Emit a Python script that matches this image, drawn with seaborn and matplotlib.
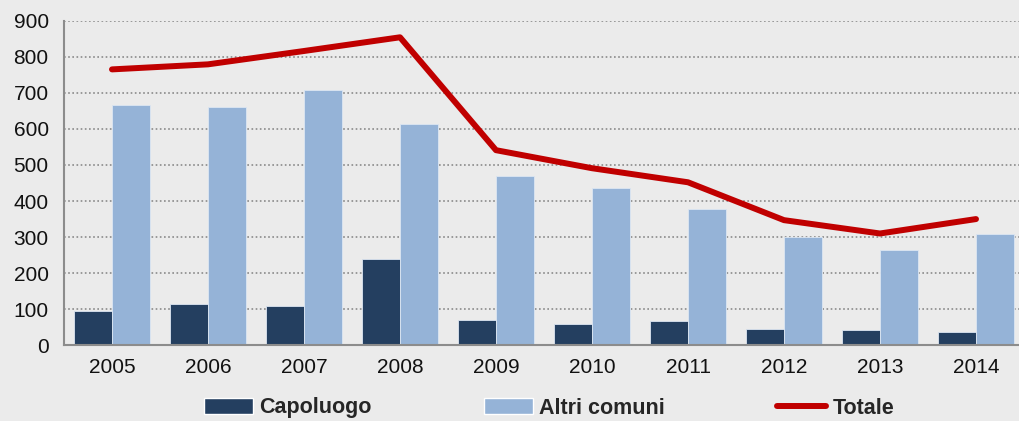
import numpy as np
import pandas as pd
import matplotlib.pyplot as plt
import seaborn as sns
from matplotlib.patches import Patch
from matplotlib.lines import Line2D

years = ['2005', '2006', '2007', '2008', '2009', '2010', '2011', '2012', '2013', '2014']
capoluogo = [95, 114, 109, 239, 69, 58, 68, 44, 43, 37]
altri_comuni = [667, 660, 708, 614, 469, 435, 379, 299, 264, 309]
totale = [765, 779, 816, 854, 541, 491, 452, 347, 310, 350]

# Colori
col_capo = '#243F60'
col_altri = '#95B3D7'
col_tot = '#C00000'
bg = '#EBEBEB'


def make_frame():
    df = pd.DataFrame({'anno': years * 2,
                       'valore': capoluogo + altri_comuni,
                       'serie': ['Capoluogo'] * len(years) + ['Altri comuni'] * len(years)})
    return df


def plot_chart(df):
    sns.set_style('white')
    plt.rcParams['font.family'] = ['Liberation Sans', 'DejaVu Sans']

    fig = plt.figure(figsize=(10.19, 4.21), dpi=100, facecolor=bg)
    ax = fig.add_axes([64 / 1019, (421 - 345.3) / 421, 960 / 1019, 324.6 / 421])
    ax.set_facecolor(bg)

    sns.barplot(data=df, x='anno', y='valore', hue='serie',
                palette=[col_capo, col_altri], width=0.8, saturation=1,
                edgecolor='#dce6f2', linewidth=0.6, ax=ax, legend=False)
    sns.lineplot(x=np.arange(len(years)), y=totale, color=col_tot, linewidth=4.3,
                 ax=ax, legend=False)

    ax.set_xlim(-0.5, 9.5)
    ax.set_ylim(0, 900)
    ax.set_yticks(range(0, 901, 100))
    ax.yaxis.grid(True, linestyle=(0, (1, 1.5)), color='#8a8a8a', linewidth=1.2)
    ax.set_axisbelow(True)

    ax.set_xticks(np.arange(-0.5, 10, 1), minor=True)
    ax.tick_params(axis='x', which='major', length=0, pad=9, labelsize=15, colors='#111111')
    ax.tick_params(axis='x', which='minor', length=5, width=1.5, color='#8c8c8c')
    ax.tick_params(axis='y', length=5, width=1.5, color='#8c8c8c', pad=6, labelsize=15,
                   labelcolor='#111111')
    ax.set_xlabel('')
    ax.set_ylabel('')

    for side in ['top', 'right']:
        ax.spines[side].set_visible(False)
    for side in ['left', 'bottom']:
        ax.spines[side].set_color('#8c8c8c')
        ax.spines[side].set_linewidth(1.5)

    handles = [Patch(facecolor=col_capo), Patch(facecolor=col_altri),
               Line2D([0], [0], color=col_tot, linewidth=4.3)]
    fig.legend(handles, ['Capoluogo', 'Altri comuni', 'Totale'], ncol=3,
               loc='center', bbox_to_anchor=(549 / 1019, 1 - 408 / 421),
               frameon=False, handlelength=2.3, handleheight=0.8,
               handletextpad=0.28, columnspacing=5.2,
               prop={'weight': 'bold', 'size': 15.5})

    fig.savefig('out.png', dpi=100, facecolor=bg)


def main():
    df = make_frame()
    plot_chart(df)


if __name__ == "__main__":
    main()
